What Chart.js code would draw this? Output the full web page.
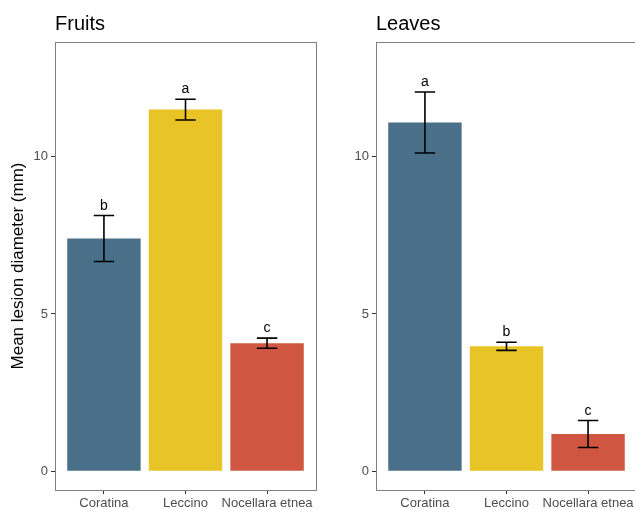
<!DOCTYPE html>
<html>
<head>
<meta charset="utf-8">
<script src="https://cdn.jsdelivr.net/npm/chart.js@4.4.1/dist/chart.umd.min.js"></script>
<style>
  html, body { margin: 0; padding: 0; background: #ffffff; }
  #wrap { position: relative; width: 635px; height: 509px; overflow: hidden; background: #ffffff; }
  .panel { position: absolute; top: 0; width: 320px; height: 509px; }
  #fruits { left: 0; }
  #leaves { left: 320px; }
</style>
</head>
<body>
<div id="wrap">
  <div class="panel" id="fruits"><canvas id="cFruits"></canvas></div>
  <div class="panel" id="leaves"><canvas id="cLeaves"></canvas></div>
</div>
<script>
// Cultivars on the x axis
const cultivars = ['Coratina', 'Leccino', 'Nocellara etnea'];

// Fruits: mean lesion diameter (mm), standard error, significance letters
const fruitMeans = [7.40, 11.50, 4.07];
const fruitSE = [0.73, 0.33, 0.16];
const fruitLetters = ['b', 'a', 'c'];

// Leaves: mean lesion diameter (mm), standard error, significance letters
const leafMeans = [11.09, 3.97, 1.18];
const leafSE = [0.97, 0.13, 0.43];
const leafLetters = ['a', 'b', 'c'];

// Y axis tick values
const yTicks = [0, 5, 10];

const barColors = ['#4a6f89', '#e9c427', '#cf5741'];
const FONT = "'Liberation Sans', Arial, Helvetica, sans-serif";

// Panel frame around the plotting area
const framePlugin = {
  id: 'frame',
  afterDraw(chart) {
    const a = chart.chartArea, ctx = chart.ctx;
    ctx.save();
    ctx.strokeStyle = '#7f7f7f';
    ctx.lineWidth = 1;
    ctx.strokeRect(Math.round(a.left) + 0.5, Math.round(a.top) + 0.5,
                   Math.round(a.right - a.left), Math.round(a.bottom - a.top));
    ctx.restore();
  }
};

// Error bars (mean ± SE) and letter labels above them
const errorPlugin = {
  id: 'errorBars',
  afterDatasetsDraw(chart, args, opts) {
    const xs = chart.scales.x, ys = chart.scales.y, ctx = chart.ctx;
    const half = (xs.getPixelForValue(1.125) - xs.getPixelForValue(1));
    ctx.save();
    ctx.strokeStyle = '#000000';
    ctx.lineWidth = 1.6;
    opts.means.forEach((m, i) => {
      const x = xs.getPixelForValue(i + 1);
      const yT = ys.getPixelForValue(m + opts.se[i]);
      const yB = ys.getPixelForValue(m - opts.se[i]);
      ctx.beginPath();
      ctx.moveTo(x, yT); ctx.lineTo(x, yB);
      ctx.moveTo(x - half, yT); ctx.lineTo(x + half, yT);
      ctx.moveTo(x - half, yB); ctx.lineTo(x + half, yB);
      ctx.stroke();
      ctx.fillStyle = '#000000';
      ctx.font = '14px ' + FONT;
      ctx.textAlign = 'center';
      ctx.textBaseline = 'alphabetic';
      ctx.fillText(opts.letters[i], x, yT - 6);
    });
    ctx.restore();
  }
};

// Panel title drawn flush with the plot's left edge
const panelTitlePlugin = {
  id: 'panelTitle',
  afterDraw(chart, args, opts) {
    const ctx = chart.ctx;
    ctx.save();
    ctx.fillStyle = '#000000';
    ctx.font = '20px ' + FONT;
    ctx.textAlign = 'left';
    ctx.textBaseline = 'alphabetic';
    ctx.fillText(opts.text, chart.chartArea.left, 30);
    ctx.restore();
  }
};

function makePanel(canvasId, title, means, se, letters, yWidth, rightPad, showYTitle) {
  return new Chart(document.getElementById(canvasId), {
    type: 'bar',
    data: {
      datasets: [{
        data: cultivars.map((c, i) => ({ x: i + 1, y: means[i] })),
        backgroundColor: barColors,
        borderWidth: 0,
        barPercentage: 0.9,
        categoryPercentage: 1.0
      }]
    },
    options: {
      responsive: true,
      maintainAspectRatio: false,
      animation: false,
      layout: { padding: { top: 42, left: 0, right: rightPad, bottom: 0 } },
      plugins: {
        legend: { display: false },
        tooltip: { enabled: false },
        title: { display: false },
        panelTitle: { text: title },
        errorBars: { means: means, se: se, letters: letters }
      },
      scales: {
        x: {
          type: 'linear',
          min: 0.4,
          max: 3.6,
          offset: false,
          afterBuildTicks(scale) { scale.ticks = cultivars.map((c, i) => ({ value: i + 1 })); },
          afterFit(scale) { scale.height = 19; },
          grid: { display: true, offset: false, drawOnChartArea: false, drawTicks: true, tickLength: 4, color: '#333333', lineWidth: 1 },
          border: { display: false },
          ticks: {
            autoSkip: false, maxRotation: 0, minRotation: 0, padding: 2,
            color: '#4d4d4d', font: { family: FONT, size: 13 },
            callback: (v) => cultivars[Math.round(v) - 1]
          }
        },
        y: {
          min: -0.6,
          max: 13.65,
          afterBuildTicks(scale) { scale.ticks = yTicks.map(v => ({ value: v })); },
          afterFit(scale) { scale.width = yWidth; },
          grid: { display: true, drawOnChartArea: false, drawTicks: true, tickLength: 4, color: '#333333', lineWidth: 1 },
          border: { display: false },
          ticks: { padding: 3, color: '#4d4d4d', font: { family: FONT, size: 13 } },
          title: {
            display: showYTitle,
            text: 'Mean lesion diameter (mm)',
            color: '#000000',
            font: { family: FONT, size: 17 },
            padding: { top: 8, bottom: 0 }
          }
        }
      }
    },
    plugins: [framePlugin, errorPlugin, panelTitlePlugin]
  });
}

makePanel('cFruits', 'Fruits', fruitMeans, fruitSE, fruitLetters, 55, 4, true);
makePanel('cLeaves', 'Leaves', leafMeans, leafSE, leafLetters, 56, 3, false);
</script>
</body>
</html>
